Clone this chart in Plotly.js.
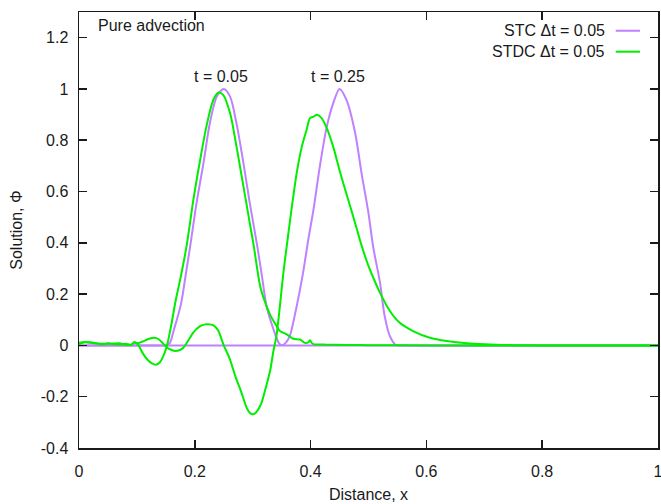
<!DOCTYPE html>
<html>
<head>
<meta charset="utf-8">
<script src="https://cdn.plot.ly/plotly-3.0.1.min.js"></script>
<style>html,body{margin:0;padding:0;background:#fff}#chart{width:661px;height:504px}</style>
</head>
<body>
<div id="chart"></div>
<script>
// STC, t = 0.05
const stc05X = [0, 0.05, 0.1, 0.14, 0.15, 0.157, 0.164, 0.176, 0.186, 0.192, 0.203, 0.215, 0.226, 0.238, 0.25, 0.261, 0.272, 0.284, 0.295, 0.308, 0.316, 0.324, 0.336, 0.345, 0.35, 0.36, 0.4, 0.7, 1];
const stc05Y = [0, 0, 0, 0, 0, 0.01, 0.062, 0.16, 0.3, 0.386, 0.555, 0.711, 0.866, 0.97, 1.0, 0.97, 0.866, 0.711, 0.555, 0.386, 0.27, 0.153, 0.062, 0.01, 0, 0, 0, 0, 0];
// STC, t = 0.25
const stc25X = [0, 0.1, 0.3, 0.34, 0.35, 0.357, 0.364, 0.376, 0.387, 0.396, 0.405, 0.416, 0.428, 0.439, 0.45, 0.462, 0.477, 0.488, 0.5, 0.508, 0.52, 0.528, 0.537, 0.546, 0.55, 0.56, 0.6, 0.8, 1];
const stc25Y = [0, 0, 0, 0, 0, 0.01, 0.036, 0.153, 0.283, 0.412, 0.529, 0.698, 0.853, 0.944, 1.0, 0.957, 0.828, 0.672, 0.516, 0.386, 0.244, 0.114, 0.036, 0.004, 0, 0, 0, 0, 0];
// STDC, t = 0.05
const stdc05X = [0, 0.01, 0.02, 0.03, 0.04, 0.05, 0.06, 0.07, 0.08, 0.09, 0.097, 0.103, 0.11, 0.118, 0.126, 0.133, 0.139, 0.145, 0.152, 0.159, 0.167, 0.176, 0.186, 0.197, 0.209, 0.22, 0.232, 0.241, 0.249, 0.261, 0.272, 0.284, 0.295, 0.302, 0.313, 0.322, 0.33, 0.34, 0.347, 0.359, 0.37, 0.382, 0.39, 0.396, 0.399, 0.402, 0.405, 0.428, 0.46, 0.5, 0.6, 0.8, 1];
const stdc05Y = [0.01, 0.013, 0.01, 0.008, 0.006, 0.008, 0.005, 0.004, 0.006, 0.003, 0.012, 0.0, -0.03, -0.055, -0.07, -0.075, -0.068, -0.045, 0.0, 0.075, 0.175, 0.27, 0.39, 0.56, 0.72, 0.853, 0.957, 0.986, 0.977, 0.905, 0.776, 0.62, 0.477, 0.386, 0.23, 0.165, 0.12, 0.08, 0.056, 0.043, 0.026, 0.023, 0.01, 0.012, 0.02, 0.01, 0.005, 0.003, 0.002, 0.001, 0, 0, 0];
// STDC, t = 0.25
const stdc25X = [0, 0.01, 0.02, 0.03, 0.04, 0.05, 0.06, 0.07, 0.08, 0.09, 0.095, 0.1, 0.11, 0.12, 0.13, 0.137, 0.145, 0.152, 0.16, 0.167, 0.174, 0.18, 0.189, 0.197, 0.209, 0.218, 0.226, 0.233, 0.24, 0.25, 0.26, 0.27, 0.28, 0.29, 0.296, 0.302, 0.308, 0.315, 0.322, 0.33, 0.336, 0.341, 0.347, 0.353, 0.359, 0.367, 0.376, 0.385, 0.393, 0.399, 0.405, 0.411, 0.419, 0.428, 0.439, 0.451, 0.462, 0.474, 0.488, 0.5, 0.51, 0.52, 0.537, 0.554, 0.577, 0.606, 0.635, 0.67, 0.71, 0.75, 0.8, 0.9, 1];
const stdc25Y = [0.005, 0.012, 0.012, 0.008, 0.004, 0.006, 0.007, 0.008, 0.003, 0.002, 0.012, 0.008, 0.015, 0.025, 0.03, 0.025, 0.008, -0.008, -0.018, -0.022, -0.018, -0.009, 0.02, 0.049, 0.075, 0.082, 0.082, 0.077, 0.06, 0.0, -0.05, -0.12, -0.18, -0.245, -0.265, -0.268, -0.255, -0.225, -0.17, -0.1, -0.02, 0.036, 0.153, 0.283, 0.39, 0.529, 0.672, 0.776, 0.84, 0.886, 0.892, 0.899, 0.886, 0.847, 0.775, 0.675, 0.59, 0.5, 0.39, 0.31, 0.255, 0.205, 0.134, 0.088, 0.056, 0.03, 0.017, 0.008, 0.004, 0.001, 0, 0, 0];

const xTicks = [0, 0.2, 0.4, 0.6, 0.8, 1];
const xTickText = ['0', '0.2', '0.4', '0.6', '0.8', '1'];
const yTicks = [-0.4, -0.2, 0, 0.2, 0.4, 0.6, 0.8, 1, 1.2];
const yTickText = ['-0.4', '-0.2', '0', '0.2', '0.4', '0.6', '0.8', '1', '1.2'];
const seriesNames = ['STC Δt = 0.05', 'STDC Δt = 0.05'];
const timeLabels = ['t = 0.05', 't = 0.25'];

const PURPLE = '#c080ff';
const GREEN = '#00ee00';
const FONT = {family: 'Liberation Sans, Arial, sans-serif', size: 16, color: '#1a1a1a'};

const lineStyle = (c) => ({color: c, width: 2, shape: 'spline', smoothing: 0.8});
const traces = [
  {x: stc05X, y: stc05Y, mode: 'lines', line: lineStyle(PURPLE), name: seriesNames[0]},
  {x: stc25X, y: stc25Y, mode: 'lines', line: lineStyle(PURPLE), name: seriesNames[0]},
  {x: stdc05X, y: stdc05Y, mode: 'lines', line: lineStyle(GREEN), name: seriesNames[1]},
  {x: stdc25X, y: stdc25Y, mode: 'lines', line: lineStyle(GREEN), name: seriesNames[1]}
];

const axisCommon = {
  showgrid: false, zeroline: false, showline: true, linecolor: '#1a1a1a', linewidth: 1.5,
  mirror: 'allticks', ticks: 'inside', ticklen: 8, tickwidth: 1.5, tickcolor: '#1a1a1a',
  tickfont: FONT
};

const layout = {
  width: 661, height: 504,
  margin: {l: 79, r: 3, t: 12, b: 56},
  paper_bgcolor: '#fff', plot_bgcolor: '#fff',
  showlegend: false,
  font: FONT,
  xaxis: Object.assign({}, axisCommon, {
    range: [0, 1.0001], tickvals: xTicks, ticktext: xTickText, ticklabelstandoff: 8,
    ticklabeloverflow: 'allow',
    title: {text: 'Distance, x', font: FONT, standoff: 10}
  }),
  yaxis: Object.assign({}, axisCommon, {
    range: [-0.4, 1.3], tickvals: yTicks, ticktext: yTickText, ticklabelstandoff: 6,
    title: {text: 'Solution, Φ', font: FONT, standoff: 14}
  }),
  annotations: [
    {xref: 'paper', yref: 'paper', x: 0.029, y: 0.970, xanchor: 'left', yanchor: 'middle', text: 'Pure advection', showarrow: false, font: FONT},
    {xref: 'x', yref: 'y', x: 0.245, y: 1.05, xanchor: 'center', yanchor: 'middle', text: timeLabels[0], showarrow: false, font: FONT},
    {xref: 'x', yref: 'y', x: 0.447, y: 1.05, xanchor: 'center', yanchor: 'middle', text: timeLabels[1], showarrow: false, font: FONT},
    {xref: 'paper', yref: 'paper', x: 0.912, y: 0.957, xanchor: 'right', yanchor: 'middle', text: seriesNames[0], showarrow: false, font: FONT},
    {xref: 'paper', yref: 'paper', x: 0.912, y: 0.909, xanchor: 'right', yanchor: 'middle', text: seriesNames[1], showarrow: false, font: FONT}
  ],
  shapes: [
    {type: 'line', xref: 'paper', yref: 'paper', x0: 0.927, x1: 0.969, y0: 0.957, y1: 0.957, line: {color: PURPLE, width: 2}},
    {type: 'line', xref: 'paper', yref: 'paper', x0: 0.927, x1: 0.969, y0: 0.909, y1: 0.909, line: {color: GREEN, width: 2}}
  ]
};

Plotly.newPlot('chart', traces, layout, {staticPlot: true, displayModeBar: false});
</script>
</body>
</html>
